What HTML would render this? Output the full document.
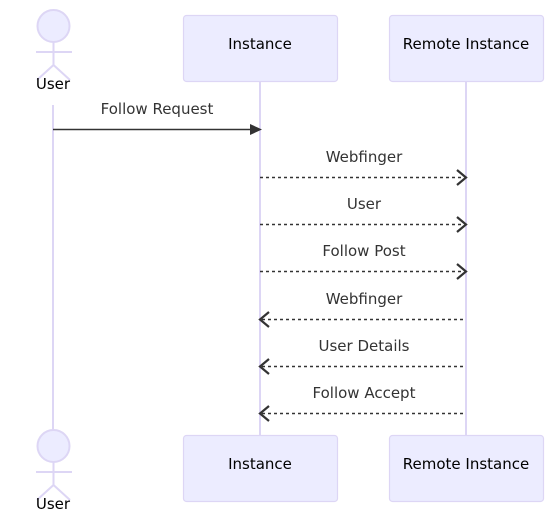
<!DOCTYPE html>
<html><head><meta charset="utf-8"><style>
html,body{margin:0;padding:0;background:#fff;width:560px;height:515px;overflow:hidden}
svg text{font-family:"DejaVu Sans","Liberation Sans",sans-serif;font-size:15px;text-anchor:middle}
</style></head><body>
<svg width="560" height="515" viewBox="0 0 560 515" xmlns="http://www.w3.org/2000/svg">
<g stroke="#ddd6f5" stroke-width="2" fill="none">
<line x1="53" y1="105" x2="53" y2="462"/>
<line x1="260" y1="81" x2="260" y2="435"/>
<line x1="466" y1="81" x2="466" y2="435"/>
</g>
<g fill="#ececff" stroke="#ddd6f5" stroke-width="1.2">
<rect x="183.5" y="15.5" width="154" height="66" rx="3"/>
<rect x="389.5" y="15.5" width="154" height="66" rx="3"/>
<rect x="183.5" y="435.5" width="154" height="66" rx="3"/>
<rect x="389.5" y="435.5" width="154" height="66" rx="3"/>
</g>
<g stroke="#ddd6f5" stroke-width="2" fill="#ececff">
<circle cx="53.5" cy="26" r="16"/>
<line x1="36" y1="52" x2="72" y2="52"/>
<line x1="53.5" y1="42" x2="53.5" y2="65"/>
<line x1="53.5" y1="65" x2="37" y2="80"/>
<line x1="53.5" y1="65" x2="70" y2="80"/>
<circle cx="53.5" cy="446" r="16"/>
<line x1="36" y1="472" x2="72" y2="472"/>
<line x1="53.5" y1="462" x2="53.5" y2="485"/>
<line x1="53.5" y1="485" x2="37" y2="500"/>
<line x1="53.5" y1="485" x2="70" y2="500"/>
</g>
<g fill="#000">
<text x="53" y="89">User</text>
<text x="53" y="509">User</text>
<text x="260" y="49">Instance</text>
<text x="466" y="49">Remote Instance</text>
<text x="260" y="469">Instance</text>
<text x="466" y="469">Remote Instance</text>
</g>
<g fill="#333">
<text x="157" y="114">Follow Request</text>
<text x="364" y="162">Webfinger</text>
<text x="364" y="209">User</text>
<text x="364" y="256">Follow Post</text>
<text x="364" y="304">Webfinger</text>
<text x="364" y="351">User Details</text>
<text x="364" y="398">Follow Accept</text>
</g>
<g stroke="#333" stroke-width="1.5" fill="none">
<line x1="53" y1="129.5" x2="252" y2="129.5"/>
<g stroke-dasharray="3,3">
<line x1="260" y1="177.5" x2="464" y2="177.5"/>
<line x1="260" y1="224.5" x2="464" y2="224.5"/>
<line x1="260" y1="271.5" x2="464" y2="271.5"/>
<line x1="262" y1="319.5" x2="466" y2="319.5"/>
<line x1="262" y1="366.5" x2="466" y2="366.5"/>
<line x1="262" y1="413.5" x2="466" y2="413.5"/>
</g>
<g stroke-width="2.2">
<polyline points="457,170 466,177.5 457,185"/>
<polyline points="457,217 466,224.5 457,232"/>
<polyline points="457,264 466,271.5 457,279"/>
<polyline points="269,312 260,319.5 269,327"/>
<polyline points="269,359 260,366.5 269,374"/>
<polyline points="269,406 260,413.5 269,421"/>
</g>
</g>
<polygon points="250,124 262,129.5 250,135" fill="#333"/>
</svg>
</body></html>
